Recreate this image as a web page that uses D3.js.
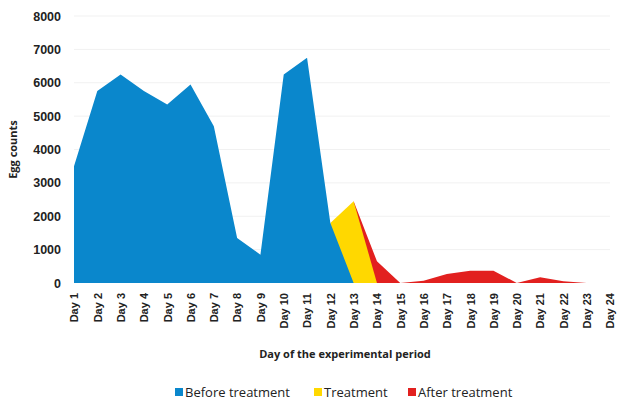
<!DOCTYPE html>
<html>
<head>
<meta charset="utf-8">
<script src="https://cdn.jsdelivr.net/npm/d3@7"></script>
<style>
  body { margin: 0; background: #fff; }
  svg { font-family: "Open Sans", "Liberation Sans", sans-serif; }
  .tick text { fill: #222; font-weight: bold; font-size: 11px; }
</style>
</head>
<body>
<svg id="chart"></svg>
<script>
// data
const days = d3.range(1, 25).map(d => 'Day ' + d);
const beforeVals = [3500, 5750, 6250, 5750, 5350, 5950, 4700, 1350, 850, 6250, 6750, 1800, 0];
const treatVals = [1800, 2450, 0];           // Day 12 - Day 14
const afterVals = [2450, 650, 0, 70, 270, 370, 370, 0, 170, 50, 0, 0]; // Day 13 - Day 24
const yTicks = [0, 1000, 2000, 3000, 4000, 5000, 6000, 7000, 8000];

const series = [
	{name: 'After treatment', color: '#e2201f', start: 12, vals: afterVals},
	{name: 'Treatment', color: '#ffd800', start: 11, vals: treatVals},
	{name: 'Before treatment', color: '#0a87cc', start: 0, vals: beforeVals}
];
const legendOrder = ['Before treatment', 'Treatment', 'After treatment'];

const W = 619, H = 403;
const margin = {top: 16, bottom: 120, left: 74, right: 9};

const $svg = d3.select('#chart').attr('width', W).attr('height', H);

const scaleX = d3.scalePoint()
	.domain(days)
	.range([margin.left, W - margin.right]);

const scaleY = d3.scaleLinear()
	.domain([0, 8000])
	.range([H - margin.bottom, margin.top]);

// gridlines
$svg.append('g')
	.selectAll('line')
	.data(yTicks.slice(1))
	.enter()
	.append('line')
	.attr('x1', margin.left)
	.attr('x2', W - margin.right)
	.attr('y1', d => scaleY(d))
	.attr('y2', d => scaleY(d))
	.attr('stroke', '#f1f1f1')
	.attr('stroke-width', 1);

const area = d3.area()
	.x(d => scaleX(d.day))
	.y0(scaleY(0))
	.y1(d => scaleY(d.v));

series.forEach(s => {
	const pts = s.vals.map((v, i) => ({day: days[s.start + i], v: v}));
	$svg.append('path')
		.datum(pts)
		.attr('d', area)
		.attr('fill', s.color);
});

// y axis
const $yAxis = $svg.append('g')
	.attr('transform', 'translate(' + (margin.left - 4) + ',0)')
	.call(d3.axisLeft(scaleY).tickValues(yTicks).tickFormat(d3.format('d')).tickSize(0).tickPadding(9));
$yAxis.select('.domain').remove();
$yAxis.selectAll('text').style('font-size', '12.5px');

// x axis
const $xAxis = $svg.append('g')
	.attr('transform', 'translate(0,' + scaleY(0) + ')')
	.call(d3.axisBottom(scaleX).tickSize(0));
$xAxis.select('.domain').remove();
$xAxis.selectAll('text')
	.attr('transform', 'rotate(-90)')
	.attr('text-anchor', 'end')
	.attr('x', -10)
	.attr('y', 0)
	.attr('dy', '0.35em');

// axis titles
$svg.append('text')
	.attr('transform', 'translate(17,' + scaleY(4000) + ') rotate(-90)')
	.attr('text-anchor', 'middle')
	.style('font-weight', 'bold')
	.style('font-size', '11px')
	.style('fill', '#222')
	.text('Egg counts');

$svg.append('text')
	.attr('x', 345)
	.attr('y', 358)
	.attr('text-anchor', 'middle')
	.style('font-weight', 'bold')
	.style('font-size', '11px')
	.style('fill', '#222')
	.text('Day of the experimental period');

// legend
const legendX = [175, 314, 408];
const $legend = $svg.append('g')
	.selectAll('g')
	.data(legendOrder)
	.enter()
	.append('g')
	.attr('transform', (d, i) => 'translate(' + legendX[i] + ',392)');

$legend.append('rect')
	.attr('x', 0)
	.attr('y', -4)
	.attr('width', 8)
	.attr('height', 8)
	.attr('fill', d => series.find(s => s.name === d).color);

$legend.append('text')
	.attr('x', 10)
	.attr('dy', '0.35em')
	.style('font-size', '13px')
	.style('fill', '#222')
	.text(d => d);
</script>
</body>
</html>
